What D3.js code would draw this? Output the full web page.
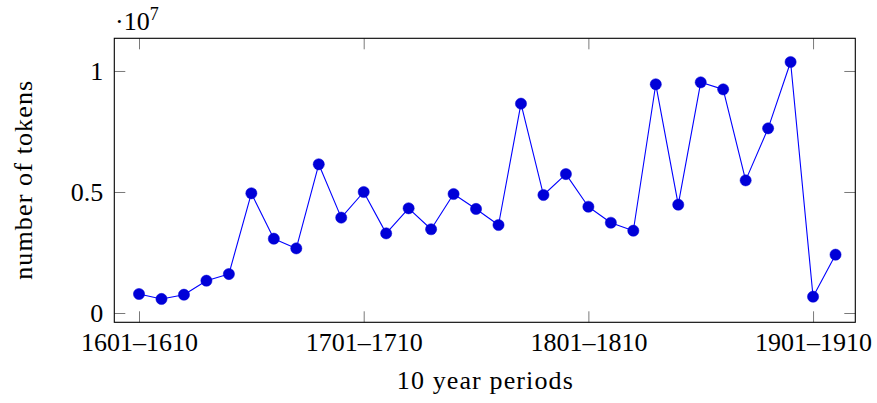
<!DOCTYPE html>
<html>
<head>
<meta charset="utf-8">
<script src="https://cdn.jsdelivr.net/npm/d3@7"></script>
<style>
  html, body { margin: 0; padding: 0; background: #fff; }
  svg text { font-family: "Liberation Serif", "DejaVu Serif", serif; fill: #000; }
</style>
</head>
<body>
<svg id="chart" width="877" height="403"></svg>
<script>
// Ten-year periods, 1601–1920
const periods = [
  "1601–1610", "1611–1620", "1621–1630", "1631–1640", "1641–1650",
  "1651–1660", "1661–1670", "1671–1680", "1681–1690", "1691–1700",
  "1701–1710", "1711–1720", "1721–1730", "1731–1740", "1741–1750",
  "1751–1760", "1761–1770", "1771–1780", "1781–1790", "1791–1800",
  "1801–1810", "1811–1820", "1821–1830", "1831–1840", "1841–1850",
  "1851–1860", "1861–1870", "1871–1880", "1881–1890", "1891–1900",
  "1901–1910", "1911–1920"
];

// Token counts per period
const tokens = [
  785000, 580000, 756000, 1335000, 1610000,
  4946000, 3070000, 2670000, 6145000, 3940000,
  5000000, 3290000, 4326000, 3460000, 4917000,
  4300000, 3636000, 8650000, 4876000, 5740000,
  4390000, 3730000, 3400000, 9450000, 4475000,
  9530000, 9240000, 5480000, 7630000, 10370000,
  674000, 2410000
];

// Axis ticks
const xTickIndex = [0, 10, 20, 30];
const yTicks = [0, 5000000, 10000000];
const yTickLabels = ["0", "0.5", "1"];
const yExponent = "7";

const svg = d3.select("#chart");
const plotL = 114.3, plotR = 855.3, plotT = 38.3, plotB = 322.3;

const x = d3.scaleLinear().domain([-1.1, 31.88]).range([plotL, plotR]);
const y = d3.scaleLinear().domain([-384000, 11350000]).range([plotB, plotT]);

const tickLen = 11;
const tickColor = "#7a7a7a";

// Bottom axis with labels
const gx = svg.append("g").attr("transform", `translate(0,${plotB})`)
  .call(d3.axisBottom(x).tickValues(xTickIndex).tickFormat(i => periods[i])
    .tickSizeInner(-tickLen).tickSizeOuter(0).tickPadding(10));
// Top axis, ticks only
const gxt = svg.append("g").attr("transform", `translate(0,${plotT})`)
  .call(d3.axisTop(x).tickValues(xTickIndex).tickFormat("")
    .tickSizeInner(-tickLen).tickSizeOuter(0));
// Left axis with labels
const gy = svg.append("g").attr("transform", `translate(${plotL},0)`)
  .call(d3.axisLeft(y).tickValues(yTicks).tickFormat((d, i) => yTickLabels[i])
    .tickSizeInner(-tickLen).tickSizeOuter(0).tickPadding(11));
// Right axis, ticks only
const gyr = svg.append("g").attr("transform", `translate(${plotR},0)`)
  .call(d3.axisRight(y).tickValues(yTicks).tickFormat("")
    .tickSizeInner(-tickLen).tickSizeOuter(0));

[gx, gxt, gy, gyr].forEach(g => {
  g.select(".domain").remove();
  g.selectAll(".tick line").attr("stroke", tickColor).attr("stroke-width", 1);
  g.selectAll(".tick text").attr("font-size", 26)
    .attr("font-family", "Liberation Serif, DejaVu Serif, serif").attr("fill", "#000");
});
gx.selectAll(".tick text").attr("dy", "0.71em");
gy.selectAll(".tick text").attr("dy", "0.33em");

// Frame
svg.append("rect")
  .attr("x", plotL).attr("y", plotT)
  .attr("width", plotR - plotL).attr("height", plotB - plotT)
  .attr("fill", "none").attr("stroke", "#000").attr("stroke-width", 1.1);

// Scale factor label
const sc = svg.append("text").attr("x", 115).attr("y", 30).attr("font-size", 26);
sc.append("tspan").text("·10");
sc.append("tspan").attr("font-size", 18).attr("dy", -10).text(yExponent);

// Series line
const line = d3.line().x((d, i) => x(i)).y(d => y(d));
svg.append("path").datum(tokens)
  .attr("d", line)
  .attr("fill", "none")
  .attr("stroke", "#0000ff")
  .attr("stroke-width", 1.1)
  .attr("stroke-linejoin", "round");

// Markers
svg.append("g").selectAll("circle").data(tokens).join("circle")
  .attr("cx", (d, i) => x(i))
  .attr("cy", d => y(d))
  .attr("r", 5.6)
  .attr("fill", "#0000d8")
  .attr("stroke", "#0000d8")
  .attr("stroke-width", 0.5);

// Axis titles
svg.append("text")
  .attr("x", (plotL + plotR) / 2).attr("y", 389)
  .attr("text-anchor", "middle").attr("font-size", 26)
  .attr("textLength", 176).attr("lengthAdjust", "spacing")
  .text("10 year periods");

svg.append("text")
  .attr("transform", `translate(32,${(plotT + plotB) / 2}) rotate(-90)`)
  .attr("text-anchor", "middle").attr("font-size", 26)
  .attr("textLength", 199).attr("lengthAdjust", "spacing")
  .text("number of tokens");
</script>
</body>
</html>
